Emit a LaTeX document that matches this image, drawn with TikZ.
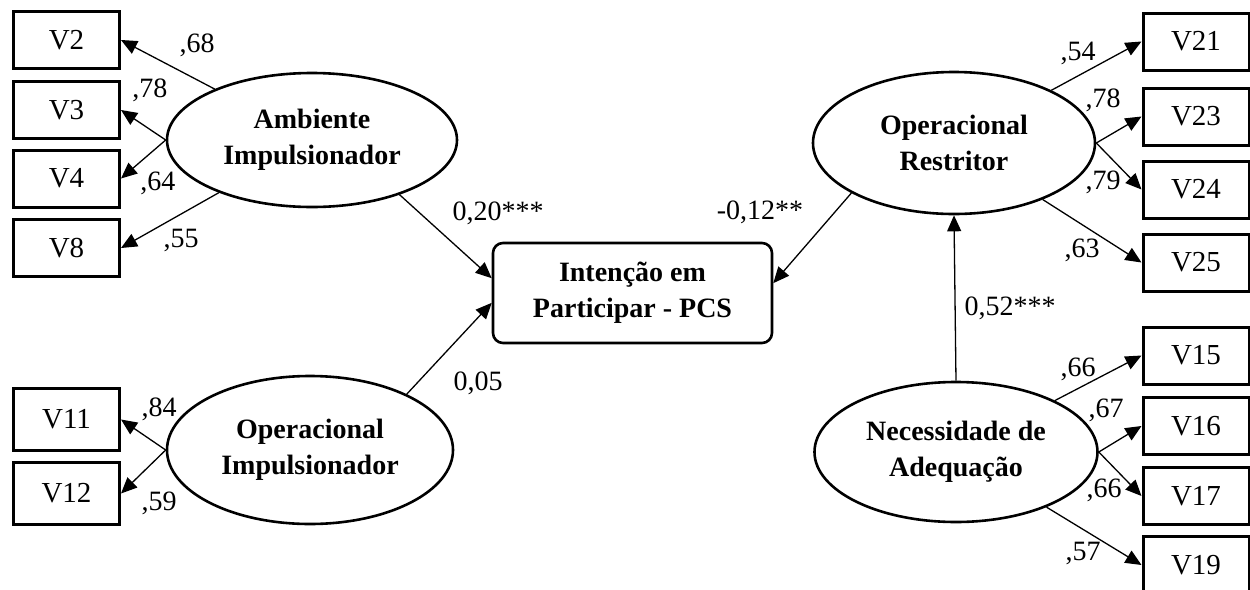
\documentclass[tikz,border=0pt]{standalone}
\usepackage{fontspec}
\setmainfont{Liberation Serif}
\usepackage{xcolor}
\usetikzlibrary{arrows.meta,shapes.geometric}

\tikzset{
  obs/.style   = {draw, rectangle, line width=1.5pt, minimum width=53pt,
                  minimum height=28.5pt, inner sep=0pt,
                  font=\fontsize{14.5}{18}\selectfont},
  lat/.style   = {draw, ellipse, line width=1.3pt, minimum width=143pt,
                  minimum height=71pt, inner sep=0pt, align=center,
                  font=\fontsize{14}{18}\selectfont\bfseries},
  dep/.style   = {draw, rectangle, rounded corners=5pt, line width=1.3pt,
                  minimum width=139.5pt, minimum height=50pt, inner sep=0pt,
                  align=center, font=\fontsize{14}{18}\selectfont\bfseries},
  carga/.style = {-{Triangle[length=8pt,width=7pt]}, line width=0.65pt},
  coef/.style  = {inner sep=0pt, font=\fontsize{14}{18}\selectfont}
}

\begin{document}
\begin{tikzpicture}[x=0.5pt, y=-0.5pt]
\useasboundingbox (0,0) rectangle (1250,590);

% construto central
\node[dep] (cen) at (632.5,293) {Intenção em\\Participar - PCS};

% parte Ambiente Impulsionador
\node[lat, minimum width=145pt, minimum height=67pt] (amb) at (312,140) {Ambiente\\Impulsionador};
\node[obs] (v2) at (66.5,40)  {V2};
\node[obs] (v3) at (66.5,110) {V3};
\node[obs] (v4) at (66.5,178.5) {V4};
\node[obs] (v8) at (66.5,248) {V8};

% parte Operacional Impulsionador
\node[lat, minimum height=74pt] (opi) at (310,450) {Operacional\\Impulsionador};
\node[obs, minimum height=31pt] (v11) at (66.5,419.5) {V11};
\node[obs, minimum height=31pt] (v12) at (66.5,493.5) {V12};

% parte Operacional Restritor
\node[lat, minimum width=141pt] (opr) at (954,143) {Operacional\\Restritor};
\node[obs] (v21) at (1196,41.5)  {V21};
\node[obs] (v23) at (1196,116.5) {V23};
\node[obs] (v24) at (1196,189.5) {V24};
\node[obs] (v25) at (1196,262.5) {V25};

% parte Necessidade de Adequacao
\node[lat, minimum width=141.5pt, minimum height=70pt] (nec) at (956,452) {Necessidade de\\Adequação};
\node[obs] (v15) at (1196,355.5) {V15};
\node[obs] (v16) at (1196,426)   {V16};
\node[obs] (v17) at (1196,496)   {V17};
\node[obs] (v19) at (1196,565)   {V19};

% cargas fatoriais
\draw[carga] (amb) -- (v2.east);
\draw[carga] (amb.west) -- (v3.east);
\draw[carga] (amb.west) -- (v4.east);
\draw[carga] (amb) -- (v8.east);
\draw[carga] (opi.west) -- (v11.east);
\draw[carga] (opi.west) -- (v12.east);
\draw[carga] (opr) -- (v21.west);
\draw[carga] (opr.east) -- (v23.west);
\draw[carga] (opr.east) -- (v24.west);
\draw[carga] (opr) -- (v25.west);
\draw[carga] (nec) -- (v15.west);
\draw[carga] (nec.east) -- (v16.west);
\draw[carga] (nec.east) -- (v17.west);
\draw[carga] (nec) -- (v19.west);

% caminhos estruturais
\draw[carga] (amb.-32) -- (cen.174.7);
\draw[carga] (opi.30) -- (cen.184.9);
\draw[carga] (opr.206) -- (cen.4.5);
\draw[carga] (nec.north) -- (opr.south);

% coeficientes
\node[coef] (c2)  at (197,45)  {,68};
\node[coef] (c3)  at (150,90)  {,78};
\node[coef] (c4)  at (158,183) {,64};
\node[coef] (c8)  at (181,240) {,55};
\node[coef] (c11) at (159,409) {,84};
\node[coef] (c12) at (159,503) {,59};
\node[coef] (c21) at (1078,53)  {,54};
\node[coef] (c23) at (1103,100) {,78};
\node[coef] (c24) at (1103,182) {,79};
\node[coef] (c25) at (1082,250) {,63};
\node[coef] (c15) at (1078,369) {,66};
\node[coef] (c16) at (1106,410) {,67};
\node[coef] (c17) at (1104,490) {,66};
\node[coef] (c19) at (1083,553) {,57};
\node[coef] (camb) at (498,213) {0,20***};
\node[coef] (copr) at (760,212) {-0,12**};
\node[coef] (copi) at (478,383) {0,05};
\node[coef] (cnec) at (1010,308) {0,52***};

\end{tikzpicture}
\end{document}
